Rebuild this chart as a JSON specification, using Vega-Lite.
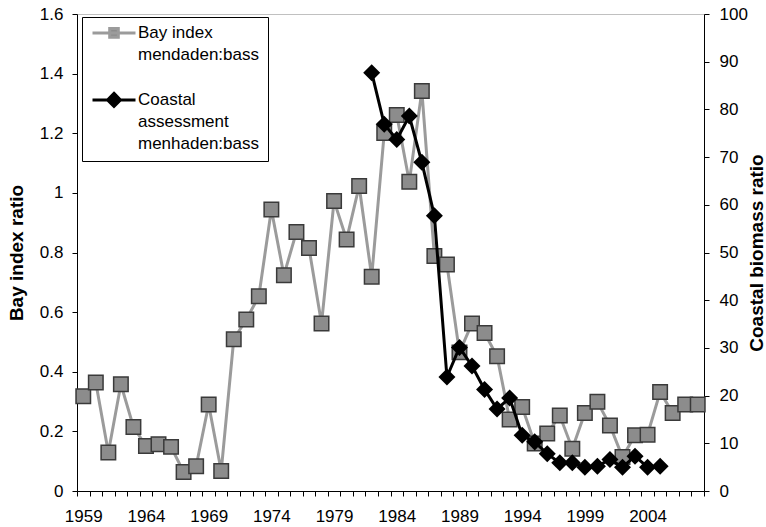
{
  "$schema": "https://vega.github.io/schema/vega-lite/v6.json",
  "width": 627,
  "height": 477,
  "autosize": {"type": "none"},
  "padding": {"left": 77, "top": 14, "right": 62, "bottom": 36},
  "background": "white",
  "config": {
    "view": {"stroke": "#c0c0c0", "strokeWidth": 1},
    "font": "Liberation Sans",
    "axis": {
      "labelFont": "Liberation Sans", "labelFontSize": 17, "labelColor": "#000",
      "titleFont": "Liberation Sans", "titleFontSize": 19, "titleFontWeight": "bold", "titleColor": "#000",
      "domainColor": "#000", "tickColor": "#000", "domainWidth": 1, "tickWidth": 1, "tickSize": 5, "grid": false
    }
  },
  "datasets": {
    "bay": [
      {"year": 1959, "value": 0.318, "series": "Bay index mendaden:bass"},
      {"year": 1960, "value": 0.364, "series": "Bay index mendaden:bass"},
      {"year": 1961, "value": 0.129, "series": "Bay index mendaden:bass"},
      {"year": 1962, "value": 0.358, "series": "Bay index mendaden:bass"},
      {"year": 1963, "value": 0.215, "series": "Bay index mendaden:bass"},
      {"year": 1964, "value": 0.151, "series": "Bay index mendaden:bass"},
      {"year": 1965, "value": 0.157, "series": "Bay index mendaden:bass"},
      {"year": 1966, "value": 0.148, "series": "Bay index mendaden:bass"},
      {"year": 1967, "value": 0.064, "series": "Bay index mendaden:bass"},
      {"year": 1968, "value": 0.083, "series": "Bay index mendaden:bass"},
      {"year": 1969, "value": 0.290, "series": "Bay index mendaden:bass"},
      {"year": 1970, "value": 0.067, "series": "Bay index mendaden:bass"},
      {"year": 1971, "value": 0.509, "series": "Bay index mendaden:bass"},
      {"year": 1972, "value": 0.575, "series": "Bay index mendaden:bass"},
      {"year": 1973, "value": 0.653, "series": "Bay index mendaden:bass"},
      {"year": 1974, "value": 0.944, "series": "Bay index mendaden:bass"},
      {"year": 1975, "value": 0.724, "series": "Bay index mendaden:bass"},
      {"year": 1976, "value": 0.869, "series": "Bay index mendaden:bass"},
      {"year": 1977, "value": 0.815, "series": "Bay index mendaden:bass"},
      {"year": 1978, "value": 0.562, "series": "Bay index mendaden:bass"},
      {"year": 1979, "value": 0.973, "series": "Bay index mendaden:bass"},
      {"year": 1980, "value": 0.844, "series": "Bay index mendaden:bass"},
      {"year": 1981, "value": 1.023, "series": "Bay index mendaden:bass"},
      {"year": 1982, "value": 0.719, "series": "Bay index mendaden:bass"},
      {"year": 1983, "value": 1.201, "series": "Bay index mendaden:bass"},
      {"year": 1984, "value": 1.261, "series": "Bay index mendaden:bass"},
      {"year": 1985, "value": 1.037, "series": "Bay index mendaden:bass"},
      {"year": 1986, "value": 1.342, "series": "Bay index mendaden:bass"},
      {"year": 1987, "value": 0.788, "series": "Bay index mendaden:bass"},
      {"year": 1988, "value": 0.760, "series": "Bay index mendaden:bass"},
      {"year": 1989, "value": 0.465, "series": "Bay index mendaden:bass"},
      {"year": 1990, "value": 0.562, "series": "Bay index mendaden:bass"},
      {"year": 1991, "value": 0.530, "series": "Bay index mendaden:bass"},
      {"year": 1992, "value": 0.452, "series": "Bay index mendaden:bass"},
      {"year": 1993, "value": 0.240, "series": "Bay index mendaden:bass"},
      {"year": 1994, "value": 0.282, "series": "Bay index mendaden:bass"},
      {"year": 1995, "value": 0.159, "series": "Bay index mendaden:bass"},
      {"year": 1996, "value": 0.193, "series": "Bay index mendaden:bass"},
      {"year": 1997, "value": 0.253, "series": "Bay index mendaden:bass"},
      {"year": 1998, "value": 0.142, "series": "Bay index mendaden:bass"},
      {"year": 1999, "value": 0.262, "series": "Bay index mendaden:bass"},
      {"year": 2000, "value": 0.299, "series": "Bay index mendaden:bass"},
      {"year": 2001, "value": 0.220, "series": "Bay index mendaden:bass"},
      {"year": 2002, "value": 0.114, "series": "Bay index mendaden:bass"},
      {"year": 2003, "value": 0.187, "series": "Bay index mendaden:bass"},
      {"year": 2004, "value": 0.189, "series": "Bay index mendaden:bass"},
      {"year": 2005, "value": 0.332, "series": "Bay index mendaden:bass"},
      {"year": 2006, "value": 0.262, "series": "Bay index mendaden:bass"},
      {"year": 2007, "value": 0.290, "series": "Bay index mendaden:bass"},
      {"year": 2008, "value": 0.290, "series": "Bay index mendaden:bass"}
    ],
    "coastal": [
      {"year": 1982, "value": 87.7, "series": "Coastal assessment menhaden:bass"},
      {"year": 1983, "value": 76.9, "series": "Coastal assessment menhaden:bass"},
      {"year": 1984, "value": 73.7, "series": "Coastal assessment menhaden:bass"},
      {"year": 1985, "value": 78.6, "series": "Coastal assessment menhaden:bass"},
      {"year": 1986, "value": 68.9, "series": "Coastal assessment menhaden:bass"},
      {"year": 1987, "value": 57.7, "series": "Coastal assessment menhaden:bass"},
      {"year": 1988, "value": 23.9, "series": "Coastal assessment menhaden:bass"},
      {"year": 1989, "value": 30.1, "series": "Coastal assessment menhaden:bass"},
      {"year": 1990, "value": 26.2, "series": "Coastal assessment menhaden:bass"},
      {"year": 1991, "value": 21.3, "series": "Coastal assessment menhaden:bass"},
      {"year": 1992, "value": 17.2, "series": "Coastal assessment menhaden:bass"},
      {"year": 1993, "value": 19.5, "series": "Coastal assessment menhaden:bass"},
      {"year": 1994, "value": 11.7, "series": "Coastal assessment menhaden:bass"},
      {"year": 1995, "value": 10.3, "series": "Coastal assessment menhaden:bass"},
      {"year": 1996, "value": 7.8, "series": "Coastal assessment menhaden:bass"},
      {"year": 1997, "value": 5.9, "series": "Coastal assessment menhaden:bass"},
      {"year": 1998, "value": 5.9, "series": "Coastal assessment menhaden:bass"},
      {"year": 1999, "value": 5.0, "series": "Coastal assessment menhaden:bass"},
      {"year": 2000, "value": 5.2, "series": "Coastal assessment menhaden:bass"},
      {"year": 2001, "value": 6.6, "series": "Coastal assessment menhaden:bass"},
      {"year": 2002, "value": 5.0, "series": "Coastal assessment menhaden:bass"},
      {"year": 2003, "value": 7.3, "series": "Coastal assessment menhaden:bass"},
      {"year": 2004, "value": 5.0, "series": "Coastal assessment menhaden:bass"},
      {"year": 2005, "value": 5.2, "series": "Coastal assessment menhaden:bass"}
    ]
  },
  "encoding": {
    "x": {
      "field": "year", "type": "ordinal",
      "scale": {"type": "band", "paddingInner": 0, "paddingOuter": 0, "domain": [1959,1960,1961,1962,1963,1964,1965,1966,1967,1968,1969,1970,1971,1972,1973,1974,1975,1976,1977,1978,1979,1980,1981,1982,1983,1984,1985,1986,1987,1988,1989,1990,1991,1992,1993,1994,1995,1996,1997,1998,1999,2000,2001,2002,2003,2004,2005,2006,2007,2008]},
      "axis": {"title": null, "labelAngle": 0, "tickBand": "extent", "labelOverlap": false, "labelPadding": 12,
               "labelExpr": "datum.value % 5 == 4 ? datum.label : ''"}
    }
  },
  "layer": [
    {
      "data": {"name": "bay"},
      "encoding": {
        "y": {"field": "value", "type": "quantitative",
              "scale": {"domain": [0, 1.6], "nice": false, "zero": true},
              "axis": {"title": "Bay index ratio", "orient": "left", "values": [0,0.2,0.4,0.6,0.8,1,1.2,1.4,1.6], "format": "~g", "labelPadding": 9, "titlePadding": 13}}
      },
      "layer": [
        {
          "mark": {"type": "line", "strokeWidth": 3},
          "encoding": {
            "color": {"field": "series", "type": "nominal",
              "scale": {"domain": ["Bay index mendaden:bass", "Coastal assessment menhaden:bass"], "range": ["#9b9b9b", "#000000"]},
              "legend": {
                "title": null, "orient": "none", "legendX": 5, "legendY": 3,
                "strokeColor": "#000", "fillColor": "#fff", "padding": 9,
                "symbolSize": 1849, "symbolStrokeWidth": 3, "symbolType": "stroke",
                "labelFont": "Liberation Sans", "labelFontSize": 17, "labelColor": "#000",
                "labelBaseline": "top", "labelOffset": 1, "rowPadding": 24, "labelLimit": 300,
                "labelExpr": "datum.value == 'Bay index mendaden:bass' ? ['Bay index', 'mendaden:bass'] : ['Coastal', 'assessment', 'menhaden:bass']",
                "encode": {
                  "symbols": {"update": {
                    "shape": {"signal": "datum.value == 'Bay index mendaden:bass' ? 'M-1,-0.75H1M-0.2,-0.95H0.2V-0.55H-0.2Z' : 'M-1,-0.75H1M0,-1.05L0.3,-0.75L0,-0.45L-0.3,-0.75Z'"},
                    "fill": {"signal": "datum.value == 'Bay index mendaden:bass' ? '#8c8c8c' : '#000000'"}
                  }},
                  "labels": {"update": {"lineHeight": {"value": 22}, "dy": {"value": -24}}}
                }
              }
            }
          }
        },
        {
          "mark": {"type": "point", "shape": "square", "filled": true, "size": 210, "fill": "#8c8c8c", "stroke": "#3a3a3a", "strokeWidth": 1.5, "opacity": 1}
        }
      ]
    },
    {
      "data": {"name": "coastal"},
      "encoding": {
        "y": {"field": "value", "type": "quantitative",
              "scale": {"domain": [0, 100], "nice": false, "zero": true},
              "axis": {"title": "Coastal biomass ratio", "orient": "right", "values": [0,10,20,30,40,50,60,70,80,90,100], "labelPadding": 10, "titlePadding": 0, "titleAngle": 270, "titleBaseline": "top"}}
      },
      "layer": [
        {
          "mark": {"type": "line", "strokeWidth": 3},
          "encoding": {
            "color": {"field": "series", "type": "nominal"}
          }
        },
        {
          "mark": {"type": "point", "shape": "diamond", "filled": true, "size": 290, "fill": "#000000", "opacity": 1}
        }
      ]
    }
  ],
  "resolve": {"scale": {"y": "independent"}}
}
